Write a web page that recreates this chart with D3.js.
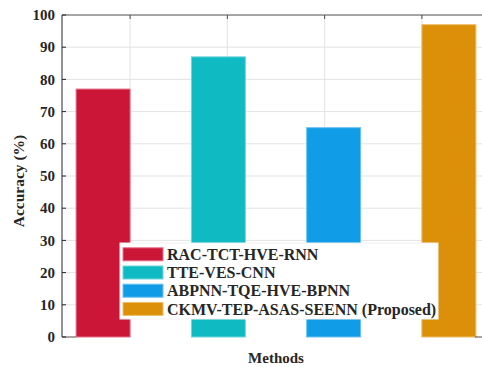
<!DOCTYPE html>
<html><head><meta charset="utf-8">
<script src="https://cdn.jsdelivr.net/npm/d3@7"></script>
<style>
html,body{margin:0;padding:0;background:#fff;}
svg{display:block;}
text{font-family:"Liberation Serif","Times New Roman",serif;font-weight:bold;fill:#262626;}
</style></head>
<body>
<script>
const methods = ["RAC-TCT-HVE-RNN","TTE-VES-CNN","ABPNN-TQE-HVE-BPNN","CKMV-TEP-ASAS-SEENN (Proposed)"];
const accuracy = [77, 87, 65, 97];
const groups = [1, 2, 3, 4];
const yTicks = [0,10,20,30,40,50,60,70,80,90,100];
const colors = ["#CB1638","#10BAC2","#109CE6","#DC900A"];
const edgeColors = ["#E4708A","#6FD6DC","#6CC2F0","#EDBE6A"];

const W = 482, H = 367;
const svg = d3.select("body").append("svg").attr("width", W).attr("height", H);
const m = {l:62, t:15, b:337};
const x = d3.scaleLinear().domain([0.3, 4.7]).range([m.l, 490]);
const y = d3.scaleLinear().domain([0, 100]).range([m.b, m.t]);
const nS = methods.length;
const step = 0.185, bw = 0.555;

// grid
const g = svg.append("g");
g.selectAll("line.hg").data(yTicks.slice(1, -1)).join("line")
  .attr("x1", m.l).attr("x2", W).attr("y1", d=>y(d)).attr("y2", d=>y(d))
  .attr("stroke", "#e3e3e3").attr("stroke-width", 1);
g.selectAll("line.vg").data(groups).join("line")
  .attr("x1", d=>x(d)).attr("x2", d=>x(d)).attr("y1", m.t).attr("y2", m.b)
  .attr("stroke", "#e3e3e3").attr("stroke-width", 1);

// bars: grouped, series s only nonzero in group s
const cells = [];
methods.forEach((name, s) => {
  groups.forEach((gx, gi) => {
    cells.push({s, gx, v: gi === s ? accuracy[s] : 0});
  });
});
svg.append("g").selectAll("rect").data(cells).join("rect")
  .attr("x", d => x(d.gx + (d.s - (nS-1)/2) * step - bw/2))
  .attr("width", d => x(d.gx + bw/2) - x(d.gx - bw/2))
  .attr("y", d => y(d.v))
  .attr("height", d => y(0) - y(d.v))
  .attr("fill", d => colors[d.s])
  .attr("stroke", d => edgeColors[d.s])
  .attr("stroke-width", 1);

// axes
const ax = svg.append("g");
ax.append("line").attr("x1", m.l).attr("x2", m.l).attr("y1", m.t).attr("y2", m.b).attr("stroke", "#262626");
ax.append("line").attr("x1", m.l).attr("x2", W).attr("y1", m.t).attr("y2", m.t).attr("stroke", "#4d4d4d");
ax.append("line").attr("x1", 475).attr("x2", W).attr("y1", m.b).attr("y2", m.b).attr("stroke", "#4d4d4d");
ax.append("line").attr("x1", m.l).attr("x2", m.l+14).attr("y1", m.b).attr("y2", m.b).attr("stroke", "#4d4d4d");
ax.selectAll("line.yt").data(yTicks).join("line")
  .attr("x1", m.l).attr("x2", m.l+4).attr("y1", d=>y(d)).attr("y2", d=>y(d)).attr("stroke", "#262626");
ax.selectAll("line.xt").data(groups).join("line")
  .attr("x1", d=>x(d)).attr("x2", d=>x(d)).attr("y1", m.t).attr("y2", m.t+4).attr("stroke", "#4d4d4d");
ax.selectAll("text.yl").data(yTicks).join("text")
  .attr("x", m.l-7).attr("y", d=>y(d)).attr("dy", "0.35em")
  .attr("text-anchor", "end").attr("font-size", 15).text(d=>d);

svg.append("text").attr("x", 276).attr("y", 363).attr("text-anchor", "middle")
  .attr("font-size", 15).text("Methods");
svg.append("text").attr("transform", "translate(24,181) rotate(-90)")
  .attr("text-anchor", "middle").attr("font-size", 15.5).text("Accuracy (%)");

// legend
const lg = svg.append("g");
lg.append("rect").attr("x", 120).attr("y", 243).attr("width", 318).attr("height", 76)
  .attr("fill", "#fff").attr("stroke", "#f2f2f2");
const rows = lg.selectAll("g.row").data(methods).join("g")
  .attr("transform", (d,i) => `translate(123,${254.3 + i*18.2})`);
rows.append("rect").attr("x", 0).attr("y", -6.5).attr("width", 40).attr("height", 13)
  .attr("fill", (d,i)=>colors[i]).attr("stroke", (d,i)=>edgeColors[i]);
rows.append("text").attr("x", 44).attr("y", 0).attr("dy", "0.35em")
  .attr("font-size", 16).text(d=>d);
</script>
</body></html>
